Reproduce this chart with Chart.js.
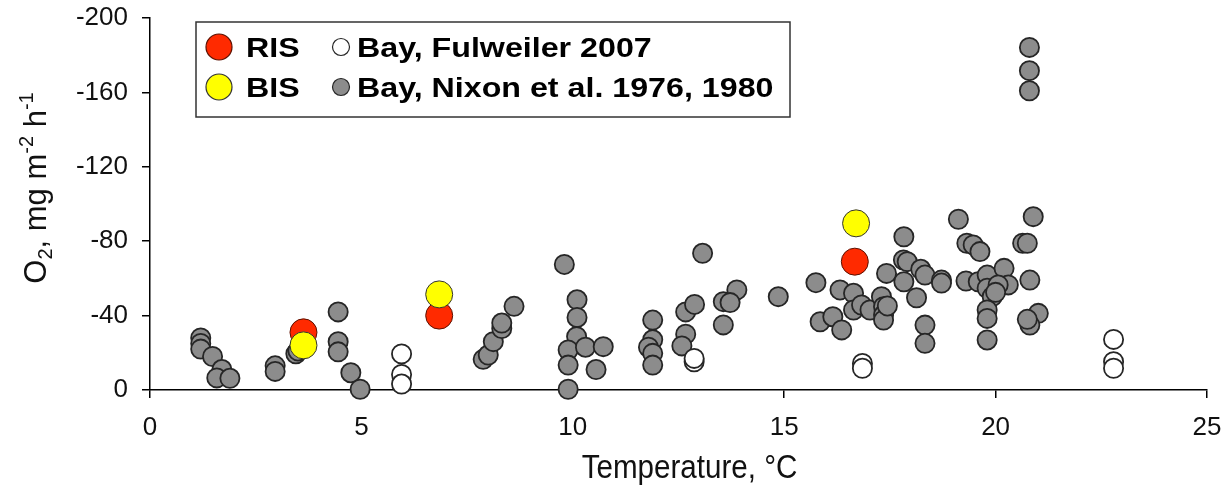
<!DOCTYPE html>
<html>
<head>
<meta charset="utf-8">
<title>Sediment oxygen uptake vs temperature</title>
<script src="https://cdn.jsdelivr.net/npm/chart.js@4/dist/chart.umd.min.js"></script>
<style>
  html, body { margin: 0; padding: 0; background: #fff; }
  canvas { display: block; }
</style>
</head>
<body>
<canvas id="chart" width="1221" height="491"></canvas>
<script>
// Sediment oxygen uptake (negative = consumption), mg O2 m-2 h-1, against water temperature (°C)

const risTemp = [3.63, 6.84, 16.67];
const risO2   = [-31, -40, -69];

const bisTemp = [3.63, 6.84, 16.7];
const bisO2   = [-24, -51.4, -89.6];

const fulweilerTemp = [5.95, 5.95, 5.95, 12.87, 12.87, 16.85, 16.85, 22.79, 22.79, 22.79];
const fulweilerO2   = [-19.4, -8.4, -3.2, -15.2, -17, -14.3, -11.7, -27.2, -15.2, -11.7];

const nixonTemp = [
  1.2, 1.2, 1.2, 1.48, 1.70, 1.58, 1.89, 2.96, 2.96, 3.45, 3.5, 4.45, 4.45, 4.45, 4.75, 4.97,
  7.88, 8.0, 8.12, 8.32, 8.32, 8.61,
  9.8, 10.1, 10.1, 10.09, 9.89, 9.89, 9.89, 10.3, 10.72, 10.55,
  11.89, 11.89, 11.79, 11.89, 11.89, 12.67, 12.88, 12.67, 12.58,
  13.07, 13.56, 13.88, 13.72, 13.56, 14.86,
  15.75, 15.85, 16.15, 16.36, 16.32, 16.64, 16.64, 16.83, 17.03,
  17.3, 17.35, 17.35, 17.35, 17.44, 17.42, 17.83, 17.82, 17.91, 17.83,
  18.13, 18.23, 18.33, 18.33, 18.33, 18.72, 18.72,
  19.12, 19.32, 19.47, 19.63, 19.3, 19.59, 19.8, 19.8, 19.92, 20.2, 20.3, 20.06, 20.0, 19.8, 19.8, 19.8,
  20.64, 20.75, 20.89, 20.81, 21.01, 20.81, 20.75, 20.8, 20.8, 20.8
];
const nixonO2 = [
  -28, -25, -22, -18, -11, -6.5, -6.3, -13, -10, -19.5, -21, -42, -26, -20.5, -9.3, -0.4,
  -16.5, -18.8, -26, -33, -36, -45,
  -67.5, -48.5, -39, -28.7, -21.5, -13.4, -0.4, -23, -23.3, -11,
  -37.6, -27, -23, -19.7, -13.4, -42, -46, -30, -23.7,
  -73.5, -47.5, -53.8, -47, -35, -50.2,
  -57.7, -36.7, -39.4, -32.3, -53.8, -52, -43, -45.7, -43,
  -50.2, -44.8, -40.3, -37.6, -45.2, -62.7, -82.4, -69.9, -69, -58.2,
  -49.6, -64.9, -61.8, -34.9, -25.1, -59.1, -57.5,
  -91.8, -78.9, -78, -74.4, -58.6, -58.2, -61.8, -54.7, -50.2, -65.4, -56.5, -56.5, -52.5, -43, -38.5, -26.9,
  -78.9, -78.9, -93.2, -59.1, -41.2, -34.9, -38, -184.2, -171.7, -160.9
];

const seriesNames = ['RIS', 'BIS', 'Bay, Fulweiler 2007', 'Bay, Nixon et al. 1976, 1980'];
const xTicks = [0, 5, 10, 15, 20, 25];
const yTicks = [-200, -160, -120, -80, -40, 0];

const pairs = (xs, ys) => xs.map((x, i) => ({ x, y: ys[i] }));

const SANS = '"Liberation Sans", Arial, Helvetica, sans-serif';
const INK = '#111';

// Axis titles and the boxed two-column key
const decorations = {
  id: 'decorations',
  afterDraw(chart) {
    const ctx = chart.ctx;
    const area = chart.chartArea;
    ctx.save();
    ctx.fillStyle = INK;
    ctx.textBaseline = 'alphabetic';

    // x-axis title (condensed face)
    ctx.save();
    ctx.font = `34px ${SANS}`;
    ctx.textAlign = 'center';
    ctx.translate((area.left + area.right) / 2 + 11, 478);
    ctx.scale(0.87, 1);
    ctx.fillText('Temperature, \u00B0C', 0, 0);
    ctx.restore();

    // y-axis title with sub/superscripts, written bottom-to-top
    const parts = [
      { t: 'O', size: 31, dy: 0 },
      { t: '2', size: 20, dy: 6 },
      { t: ', mg m', size: 31, dy: 0 },
      { t: '-2', size: 20, dy: -13 },
      { t: ' h', size: 31, dy: 0 },
      { t: '-1', size: 20, dy: -13 }
    ];
    let total = 0;
    parts.forEach(p => { ctx.font = `${p.size}px ${SANS}`; p.w = ctx.measureText(p.t).width; total += p.w; });
    ctx.save();
    ctx.translate(46, 188);
    ctx.rotate(-Math.PI / 2);
    ctx.textAlign = 'left';
    let cx = -total / 2;
    parts.forEach(p => {
      ctx.font = `${p.size}px ${SANS}`;
      ctx.fillText(p.t, cx, p.dy);
      cx += p.w;
    });
    ctx.restore();

    // key box
    const box = { x: 196, y: 22, w: 594, h: 95 };
    ctx.fillStyle = '#fff';
    ctx.fillRect(box.x, box.y, box.w, box.h);
    ctx.lineWidth = 1.5;
    ctx.strokeStyle = '#333';
    ctx.strokeRect(box.x, box.y, box.w, box.h);

    const slots = [
      { ds: 0, cx: 219, cy: 47, r: 13, tx: 246 },
      { ds: 1, cx: 219, cy: 87, r: 13, tx: 246 },
      { ds: 2, cx: 341, cy: 47, r: 8.5, tx: 357 },
      { ds: 3, cx: 341, cy: 87, r: 8.5, tx: 357 }
    ];
    slots.forEach(s => {
      const d = chart.data.datasets[s.ds];
      ctx.beginPath();
      ctx.arc(s.cx, s.cy, s.r, 0, Math.PI * 2);
      ctx.fillStyle = d.backgroundColor;
      ctx.fill();
      ctx.lineWidth = 1.2;
      ctx.strokeStyle = d.borderColor;
      ctx.stroke();

      ctx.save();
      ctx.fillStyle = '#000';
      ctx.font = `bold 28px ${SANS}`;
      ctx.textAlign = 'left';
      ctx.translate(s.tx, s.cy + 10);
      ctx.scale(1.15, 1);
      ctx.fillText(d.label, 0, 0);
      ctx.restore();
    });
    ctx.restore();
  }
};

const tickFont = { family: SANS, size: 26 };

new Chart(document.getElementById('chart'), {
  type: 'scatter',
  data: {
    datasets: [
      { label: seriesNames[0], data: pairs(risTemp, risO2), order: 1,
        backgroundColor: '#ff2a00', borderColor: '#5a1000', borderWidth: 1, pointRadius: 13.5 },
      { label: seriesNames[1], data: pairs(bisTemp, bisO2), order: 0,
        backgroundColor: '#ffff00', borderColor: '#333333', borderWidth: 1, pointRadius: 13.5 },
      { label: seriesNames[2], data: pairs(fulweilerTemp, fulweilerO2), order: 2,
        backgroundColor: '#ffffff', borderColor: '#262626', borderWidth: 1.8, pointRadius: 9.6 },
      { label: seriesNames[3], data: pairs(nixonTemp, nixonO2), order: 3,
        backgroundColor: '#8c8c8c', borderColor: '#262626', borderWidth: 1.8, pointRadius: 9.6 }
    ]
  },
  options: {
    responsive: false,
    animation: false,
    events: [],
    clip: false,
    layout: { autoPadding: false, padding: { top: 18, right: 14, bottom: 0, left: 0 } },
    elements: { point: { hoverRadius: 0 } },
    plugins: { legend: { display: false }, tooltip: { enabled: false } },
    scales: {
      x: {
        type: 'linear', min: 0, max: 25,
        afterBuildTicks: s => { s.ticks = xTicks.map(v => ({ value: v })); },
        afterFit: s => { s.height = 101; s.paddingLeft = 0; s.paddingRight = 0; },
        ticks: { font: tickFont, color: INK, padding: 14, maxRotation: 0 },
        grid: { drawOnChartArea: false, drawTicks: true, tickLength: 8, color: '#000', lineWidth: 1.5 },
        border: { display: true, color: '#000', width: 1.5 }
      },
      y: {
        type: 'linear', min: -200, max: 0, reverse: true,
        afterBuildTicks: s => { s.ticks = yTicks.map(v => ({ value: v })); },
        afterFit: s => { s.width = 150; s.paddingTop = 0; s.paddingBottom = 0; },
        ticks: { font: tickFont, color: INK, padding: 14 },
        grid: { drawOnChartArea: false, drawTicks: true, tickLength: 8, color: '#000', lineWidth: 1.5 },
        border: { display: true, color: '#000', width: 1.5 }
      }
    }
  },
  plugins: [decorations]
});
</script>
</body>
</html>
